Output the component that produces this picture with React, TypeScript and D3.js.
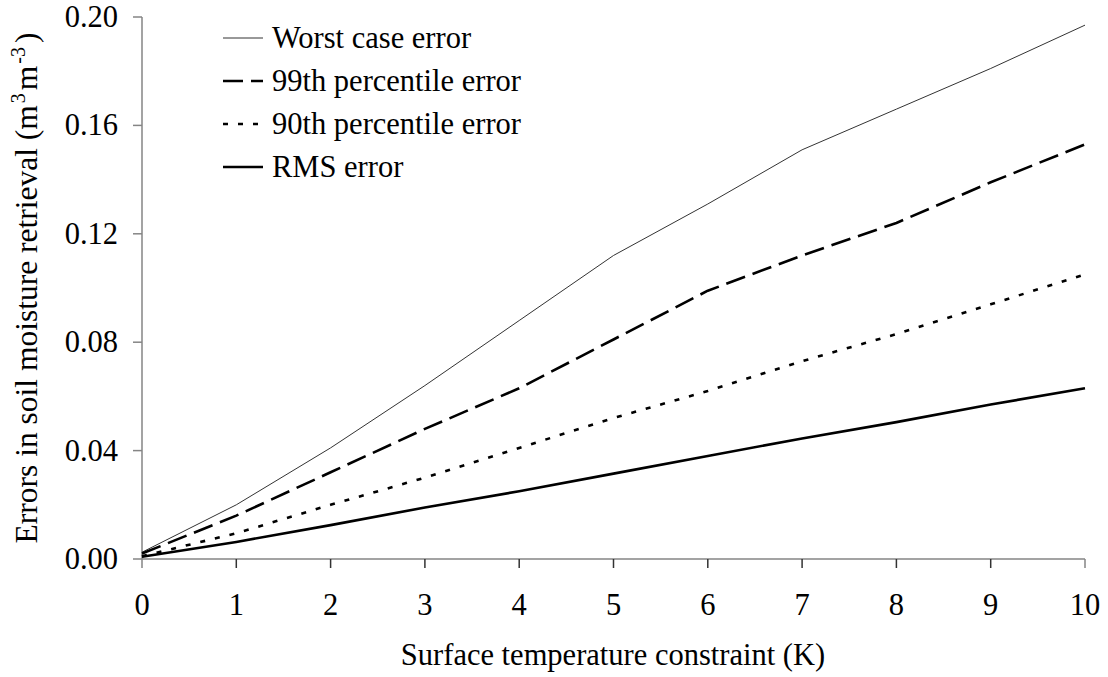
import React from "react";
import * as d3 from "d3";

const xValues = [0, 1, 2, 3, 4, 5, 6, 7, 8, 9, 10];
const worstCase = [0.0025, 0.02, 0.041, 0.064, 0.088, 0.112, 0.131, 0.151, 0.166, 0.181, 0.197];
const p99 = [0.002, 0.016, 0.032, 0.048, 0.063, 0.081, 0.099, 0.112, 0.124, 0.139, 0.153];
const p90 = [0.001, 0.0095, 0.02, 0.03, 0.041, 0.052, 0.062, 0.073, 0.083, 0.094, 0.105];
const rms = [0.0008, 0.0063, 0.0125, 0.019, 0.025, 0.0315, 0.038, 0.0445, 0.0505, 0.057, 0.063];
const yTicks = [0, 0.04, 0.08, 0.12, 0.16, 0.2];
const xTicks = [0, 1, 2, 3, 4, 5, 6, 7, 8, 9, 10];
const seriesNames = ["Worst case error", "99th percentile error", "90th percentile error", "RMS error"];

const W = 1108;
const H = 677;
const left = 142;
const right = 1085;
const top = 17;
const bottom = 559;

const FAMILY = '"Liberation Serif", "Times New Roman", Times, serif';
const textStyle: React.CSSProperties = { fontFamily: FAMILY, fontSize: "30.5px" };

export default function App() {
  const x = d3.scaleLinear().domain([0, 10]).range([left, right]);
  const y = d3.scaleLinear().domain([0, 0.2]).range([bottom, top]);
  const line = d3
    .line<number>()
    .x((_, i) => x(xValues[i]))
    .y((d) => y(d));

  const series = [
    { name: seriesNames[0], data: worstCase, width: 1, dash: undefined as string | undefined, color: "#333" },
    { name: seriesNames[1], data: p99, width: 2.6, dash: "20,8", color: "#000" },
    { name: seriesNames[2], data: p90, width: 2.6, dash: "5,10", color: "#000" },
    { name: seriesNames[3], data: rms, width: 2.6, dash: undefined, color: "#000" },
  ];

  const legendY = [38, 81, 124, 167];

  return (
    <svg
      width={W}
      height={H}
      style={{ position: "absolute", left: 0, top: 0, background: "#fff" }}
    >
      <rect x={0} y={0} width={W} height={H} fill="#fff" />
      {/* axes */}
      <line x1={left} x2={left} y1={top} y2={bottom} stroke="#858585" strokeWidth={1.5} />
      <line x1={left} x2={right} y1={bottom} y2={bottom} stroke="#858585" strokeWidth={1.5} />
      {yTicks.map((t) => (
        <g key={"y" + t}>
          <line x1={left - 9} x2={left} y1={y(t)} y2={y(t)} stroke="#858585" strokeWidth={1.5} />
          <text x={118} y={y(t)} dy={10} textAnchor="end" style={textStyle} fill="#000">
            {t.toFixed(2)}
          </text>
        </g>
      ))}
      {xTicks.map((t) => (
        <g key={"x" + t}>
          <line
            x1={x(t)}
            x2={x(t)}
            y1={bottom}
            y2={bottom + 9}
            stroke={t === 0 || t === 10 ? "#858585" : "#333"}
            strokeWidth={1.5}
          />
          <text x={x(t)} y={615} textAnchor="middle" style={textStyle} fill="#000">
            {t}
          </text>
        </g>
      ))}
      {/* series */}
      {series.map((s) => (
        <path
          key={s.name}
          d={line(s.data) || ""}
          fill="none"
          stroke={s.color}
          strokeWidth={s.width}
          strokeDasharray={s.dash}
          strokeLinejoin="round"
        />
      ))}
      {/* legend */}
      {series.map((s, i) => (
        <g key={"lg" + s.name}>
          <line
            x1={223}
            x2={263}
            y1={legendY[i]}
            y2={legendY[i]}
            stroke={s.color}
            strokeWidth={s.width}
            strokeDasharray={s.dash}
          />
          <text x={272} y={legendY[i] + 10} style={textStyle} fill="#000">
            {s.name}
          </text>
        </g>
      ))}
      {/* axis titles */}
      <text x={613} y={665} textAnchor="middle" style={textStyle} fill="#000">
        Surface temperature constraint (K)
      </text>
      <text
        transform={`translate(37,288) rotate(-90)`}
        textAnchor="middle"
        style={{ fontFamily: FAMILY, fontSize: "31.5px" }}
        fill="#000"
      >
        Errors in soil moisture retrieval (m
        <tspan style={{ fontSize: "20px" }} dx={2} dy={-12}>3</tspan>
        <tspan dx={3} dy={12}>m</tspan>
        <tspan style={{ fontSize: "20px" }} dx={2} dy={-12}>-3</tspan>
        <tspan dx={4} dy={12}>)</tspan>
      </text>
    </svg>
  );
}
